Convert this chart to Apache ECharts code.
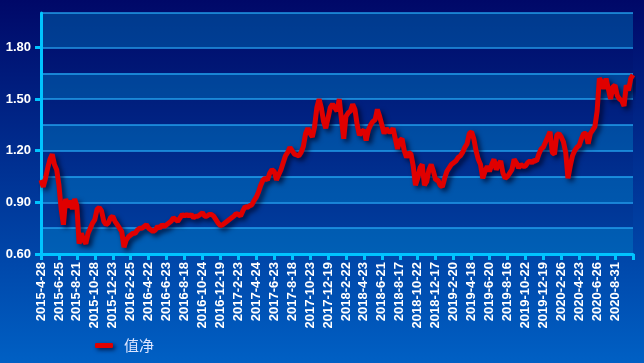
<!DOCTYPE html>
<html>
<head>
<meta charset="utf-8">
<script src="https://cdn.jsdelivr.net/npm/echarts@6/dist/echarts.min.js"></script>
<style>
html,body{margin:0;padding:0;}
#chart{width:644px;height:363px;}
</style>
</head>
<body>
<div id="chart"></div>
<script>
// Tick labels on the x axis (one every 8 samples)
var dateLabels = ['2015-4-28','2015-6-25','2015-8-21','2015-10-28','2015-12-23','2016-2-25','2016-4-22','2016-6-23','2016-8-18','2016-10-24','2016-12-19','2017-2-23','2017-4-24','2017-6-23','2017-8-18','2017-10-23','2017-12-19','2018-2-22','2018-4-23','2018-6-21','2018-8-17','2018-10-22','2018-12-17','2019-2-20','2019-4-18','2019-6-20','2019-8-16','2019-10-22','2019-12-19','2020-2-26','2020-4-23','2020-6-26','2020-8-31'];
var samplesPerLabel = 8;
// Y tick labels
var yLabelValues = [0.6, 0.9, 1.2, 1.5, 1.8];
var seriesName = '值净';
// NAV values (sampled)
var navValues = [
1.03,0.99,1.04,1.10,1.15,1.18,1.12,1.09,1.00,0.86,0.77,0.92,0.87,0.91,0.86,0.92,
0.88,0.66,0.72,0.68,0.66,0.72,0.75,0.78,0.80,0.86,0.87,0.85,0.79,0.77,0.78,0.81,
0.82,0.79,0.77,0.75,0.73,0.64,0.68,0.70,0.71,0.72,0.72,0.74,0.75,0.75,0.76,0.77,
0.75,0.74,0.73,0.74,0.76,0.75,0.77,0.76,0.77,0.78,0.79,0.81,0.80,0.79,0.81,0.83,
0.82,0.83,0.82,0.83,0.81,0.82,0.82,0.83,0.84,0.82,0.82,0.83,0.83,0.82,0.80,0.78,
0.765,0.77,0.78,0.79,0.80,0.81,0.82,0.835,0.83,0.82,0.85,0.875,0.87,0.88,0.885,0.91,
0.93,0.96,1.00,1.03,1.04,1.03,1.07,1.09,1.08,1.03,1.06,1.09,1.13,1.17,1.19,1.22,
1.20,1.18,1.175,1.17,1.19,1.225,1.30,1.33,1.30,1.28,1.34,1.45,1.50,1.45,1.37,1.33,
1.39,1.45,1.47,1.45,1.43,1.50,1.38,1.27,1.40,1.42,1.43,1.47,1.44,1.35,1.29,1.31,
1.32,1.26,1.32,1.35,1.37,1.38,1.44,1.40,1.35,1.30,1.33,1.31,1.31,1.33,1.27,1.21,
1.26,1.27,1.20,1.16,1.19,1.18,1.11,1.00,1.04,1.10,1.12,1.00,1.02,1.09,1.12,1.08,
1.03,1.03,1.00,0.99,1.04,1.08,1.10,1.12,1.13,1.14,1.16,1.17,1.19,1.22,1.24,1.30,
1.31,1.27,1.20,1.15,1.12,1.04,1.08,1.11,1.08,1.12,1.15,1.09,1.12,1.14,1.07,1.04,
1.05,1.07,1.09,1.15,1.13,1.10,1.12,1.11,1.11,1.13,1.14,1.13,1.145,1.14,1.18,1.21,
1.22,1.25,1.28,1.31,1.19,1.18,1.29,1.30,1.28,1.25,1.19,1.04,1.11,1.17,1.20,1.22,
1.23,1.27,1.30,1.30,1.24,1.30,1.32,1.34,1.43,1.62,1.60,1.56,1.62,1.56,1.50,1.57,
1.58,1.52,1.50,1.49,1.46,1.58,1.55,1.62,1.64
];

var categories = [];
dateLabels.forEach(function (d) {
  categories.push(d);
  for (var k = 1; k < samplesPerLabel; k++) categories.push('');
});
while (categories.length < navValues.length) categories.push('');

var L = 'rgba(0,140,205,0.36)', D = 'rgba(0,0,60,0.06)';
var lineC = 'rgba(40,175,250,0.85)';

var chart = echarts.init(document.getElementById('chart'));
chart.setOption({
  animation: false,
  backgroundColor: {
    type: 'linear', x: 0, y: 0, x2: 0, y2: 1,
    colorStops: [{offset: 0, color: '#000868'}, {offset: 1, color: '#0060c4'}]
  },
  grid: {left: 41, right: 11, top: 13, bottom: 109, containLabel: false},
  legend: {
    left: 95, top: 338, padding: 0,
    icon: 'roundRect', itemWidth: 18, itemHeight: 5,
    itemStyle: {shadowColor: 'rgba(0,0,30,0.7)', shadowBlur: 4, shadowOffsetX: 2, shadowOffsetY: 2},
    textStyle: {color: '#dde6ff', fontSize: 15, fontFamily: 'Noto Sans CJK SC', padding: [0, 0, 0, 6]},
    data: [seriesName]
  },
  xAxis: {
    type: 'category', boundaryGap: false, data: categories,
    axisLine: {lineStyle: {color: '#00c4ff', width: 3}},
    axisTick: {show: true, interval: samplesPerLabel - 1, length: 6, lineStyle: {color: '#00c4ff', width: 3}},
    axisLabel: {
      interval: samplesPerLabel - 1, rotate: 90, color: '#ffffff', fontWeight: 'bold',
      fontSize: 13, fontFamily: 'Liberation Sans', margin: 8, padding: [0, 0, 10, 0]
    },
    splitLine: {show: false}
  },
  yAxis: [{
    type: 'value', min: 0.6, max: 2.0, interval: 0.15,
    axisLine: {show: true, lineStyle: {color: '#00c4ff', width: 3}},
    axisTick: {show: false},
    axisLabel: {show: false},
    splitLine: {show: true, lineStyle: {width: 1.5, color: [lineC,lineC,lineC,lineC,lineC,lineC,lineC,lineC,lineC,'rgba(0,0,0,0)',lineC]}},
    splitArea: {show: true, areaStyle: {color: [L,D,L,D,L,D,L,D,L,L]}}
  }, {
    type: 'value', position: 'left', min: 0.6, max: 2.0, interval: 0.15,
    axisLine: {show: false},
    axisTick: {show: true, length: 6, customValues: yLabelValues, lineStyle: {color: '#00c4ff', width: 3}},
    axisLabel: {
      customValues: yLabelValues, color: '#ffffff', fontWeight: 'bold', fontSize: 13,
      fontFamily: 'Liberation Sans', margin: 10,
      formatter: function (v) { return v.toFixed(2); }
    },
    splitLine: {show: false}, splitArea: {show: false}
  }],
  series: [{
    name: seriesName, type: 'line', data: navValues, yAxisIndex: 0,
    symbol: 'none', smooth: false,
    itemStyle: {color: '#e00000'},
    lineStyle: {color: '#e00000', width: 5, shadowColor: 'rgba(0,0,30,0.7)', shadowBlur: 5, shadowOffsetX: 3, shadowOffsetY: 3}
  }]
});
</script>
</body>
</html>
